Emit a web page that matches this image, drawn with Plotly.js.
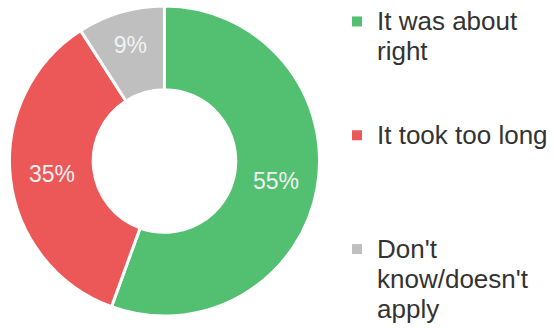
<!DOCTYPE html>
<html>
<head>
<meta charset="utf-8">
<script src="https://cdn.plot.ly/plotly-3.0.1.min.js"></script>
<style>html,body{margin:0;padding:0;background:#fff;}#chart{width:554px;height:328px;}</style>
</head>
<body>
<div id="chart"></div>
<script>
// Data
const categories = ["It was about right", "It took too long", "Don't know/doesn't apply"];
const legendLines = [["It was about", "right"], ["It took too long", " "], ["Don't", "know/doesn't", "apply"]];
const values = [55, 35, 9];
const colors = ["#52BF71", "#EC5858", "#BFBFBF"];

const FONT = "Liberation Sans, Arial, Helvetica, sans-serif";
const LEGEND_GLYPH = 26;

const pie = {
  type: "pie",
  labels: categories,
  values: values,
  sort: false,
  direction: "clockwise",
  rotation: 0,
  hole: 0.46,
  marker: { colors: colors, line: { color: "#ffffff", width: 3 } },
  texttemplate: "%{value}%",
  textposition: "inside",
  insidetextorientation: "horizontal",
  textfont: { family: FONT, size: 23, color: "#f2f2f2" },
  domain: { x: [9 / 554, 320 / 554], y: [12 / 328, 322 / 328] },
  showlegend: false,
  hoverinfo: "label+value"
};

const legendTraces = categories.map((c, i) => ({
  type: "scatter",
  mode: "markers",
  x: [null],
  y: [null],
  name: legendLines[i].map(s => "<span style='font-size:" + LEGEND_GLYPH + "px'>" + s + "</span>").join("<br>"),
  legendgroup: "g" + i,
  marker: { symbol: "square", size: 10, color: colors[i] },
  showlegend: true,
  hoverinfo: "skip"
}));

const layout = {
  width: 554,
  height: 328,
  margin: { l: 0, r: 0, t: 0, b: 0 },
  paper_bgcolor: "#ffffff",
  plot_bgcolor: "#ffffff",
  font: { family: FONT },
  xaxis: { visible: false, domain: [0.99, 1] },
  yaxis: { visible: false },
  showlegend: true,
  legend: {
    x: 337 / 554,
    xanchor: "left",
    y: 1,
    yanchor: "top",
    valign: "top",
    tracegroupgap: 51,
    bgcolor: "rgba(0,0,0,0)",
    borderwidth: 0,
    font: { family: FONT, size: 23, color: "#333333" }
  }
};

Plotly.newPlot("chart", [pie].concat(legendTraces), layout, { displayModeBar: false, staticPlot: true });
</script>
</body>
</html>
